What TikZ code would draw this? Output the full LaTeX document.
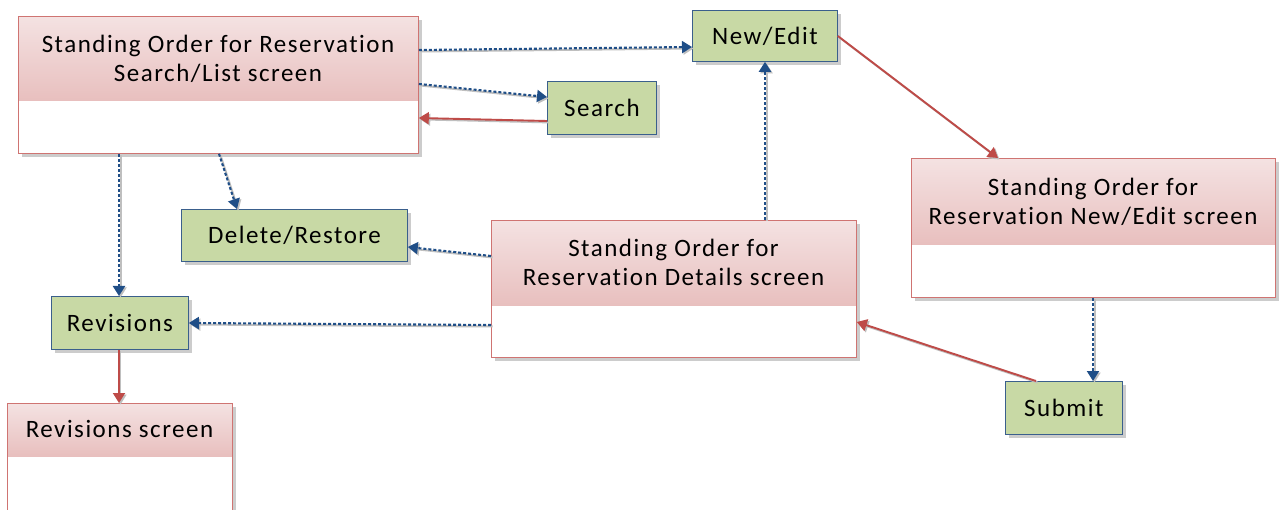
\documentclass[tikz,border=0pt]{standalone}
\usepackage{fontspec}
\setmainfont{Carlito}[LetterSpace=6,Ligatures=NoCommon]
\usetikzlibrary{arrows.meta,shadows,calc}
\definecolor{pinktop}{HTML}{F4E2E2}
\definecolor{pinkbot}{HTML}{E8BFBE}
\definecolor{pinkline}{HTML}{CF7472}
\definecolor{greenfill}{HTML}{C8D9A5}
\definecolor{blueline}{HTML}{3A5F8C}
\definecolor{bluearrow}{HTML}{1F4E87}
\definecolor{redarrow}{HTML}{BE4B48}
\tikzset{
  screenbox/.style={draw=pinkline, line width=0.8pt, fill=white, inner sep=0pt, anchor=north west,
    drop shadow={opacity=0.4, shadow xshift=4pt, shadow yshift=-4pt}},
  actbox/.style={draw=blueline, line width=0.8pt, fill=greenfill, inner sep=0pt, anchor=north west,
    drop shadow={opacity=0.4, shadow xshift=4pt, shadow yshift=-4pt}},
  hdrtext/.style={font=\fontsize{25}{29}\selectfont, align=center, inner sep=0pt},
  acttext/.style={font=\fontsize{25}{29}\selectfont, inner sep=0pt},
  dotarrow/.style={draw=bluearrow, line width=2.1pt, dash pattern=on 3pt off 2pt,
    -{Triangle[width=12pt,length=10pt]},
    preaction={draw=black!25, line width=2pt, transform canvas={xshift=1.5pt,yshift=-1.5pt}, -{Triangle[width=12pt,length=10pt]}}},
  redarr/.style={draw=redarrow, line width=1.9pt, -{Triangle[width=12pt,length=10pt]},
    preaction={draw=black!25, line width=1.8pt, transform canvas={xshift=1.5pt,yshift=-1.5pt}, -{Triangle[width=12pt,length=10pt]}}},
}
\newcommand{\hdr}[2]{%
  \shade[top color=pinktop, bottom color=pinkbot] ([shift={(0.4pt,-0.4pt)}]#1.north west) rectangle ($(#1.north east)+(-0.4pt,#2)$);
  \draw[pinkline, line width=0.8pt] (#1.north west) rectangle (#1.south east);}
\begin{document}
\begin{tikzpicture}[x=1pt,y=-1pt]
\useasboundingbox (0,0) rectangle (1279,510);
% screens
\node[screenbox, minimum width=400pt, minimum height=137pt] (sl) at (18,16) {};
\hdr{sl}{85}
\node[hdrtext] (slt) at (218,58.5) {Standing Order for Reservation\\Search/List screen};

\node[screenbox, minimum width=365pt, minimum height=137pt] (det) at (491,220) {};
\hdr{det}{86}
\node[hdrtext] (dett) at (673.5,262) {Standing Order for\\Reservation Details screen};

\node[screenbox, minimum width=364pt, minimum height=139pt] (nes) at (911,158) {};
\hdr{nes}{87}
\node[hdrtext] (nest) at (1093,202) {Standing Order for\\Reservation New/Edit screen};

\node[screenbox, minimum width=225pt, minimum height=115pt] (rs) at (7,403) {};
\hdr{rs}{53}
\node[hdrtext] (rst) at (119.5,429) {Revisions screen};

% action boxes
\node[actbox, minimum width=145pt, minimum height=51pt] (ne) at (692,10) {};
\node[acttext] (net) at (ne.center) {New/Edit};
\node[actbox, minimum width=109pt, minimum height=53pt] (se) at (547,81) {};
\node[acttext] (set) at (se.center) {Search};
\node[actbox, minimum width=226pt, minimum height=52pt] (dr) at (181,209) {};
\node[acttext] (drt) at (dr.center) {Delete/Restore};
\node[actbox, minimum width=137pt, minimum height=53pt] (rv) at (51,296) {};
\node[acttext] (rvt) at (rv.center) {Revisions};
\node[actbox, minimum width=117pt, minimum height=53pt] (sb) at (1005,381) {};
\node[acttext] (sbt) at (sb.center) {Submit};

% connectors
\draw[dotarrow] ($(sl.north east)+(0,34)$) -- ($(ne.north west)+(0,37)$);
\draw[dotarrow] ($(sl.north east)+(0,68)$) -- ($(se.north west)+(0,16)$);
\draw[redarr] ($(se.north west)+(0,40)$) -- ($(sl.north east)+(0,102)$);
\draw[dotarrow] ($(sl.south west)+(101,0)$) -- ($(rv.north west)+(68,0)$);
\draw[dotarrow] ($(sl.south west)+(201,0)$) -- ($(dr.north west)+(56,0)$);
\draw[dotarrow] ($(det.north west)+(0,36)$) -- ($(dr.north east)+(0,38)$);
\draw[dotarrow] ($(det.north west)+(0,105)$) -- ($(rv.north east)+(0,27)$);
\draw[dotarrow] ($(det.north west)+(274,0)$) -- ($(ne.south west)+(73,0)$);
\draw[redarr] ($(ne.north east)+(0,26)$) -- ($(nes.north west)+(87,0)$);
\draw[dotarrow] ($(nes.south west)+(182,0)$) -- ($(sb.north west)+(88,0)$);
\draw[redarr] ($(sb.north west)+(31,0)$) -- ($(det.north east)+(0,102)$);
\draw[redarr] ($(rv.south west)+(68,0)$) -- ($(rs.north west)+(112,0)$);
\end{tikzpicture}
\end{document}
